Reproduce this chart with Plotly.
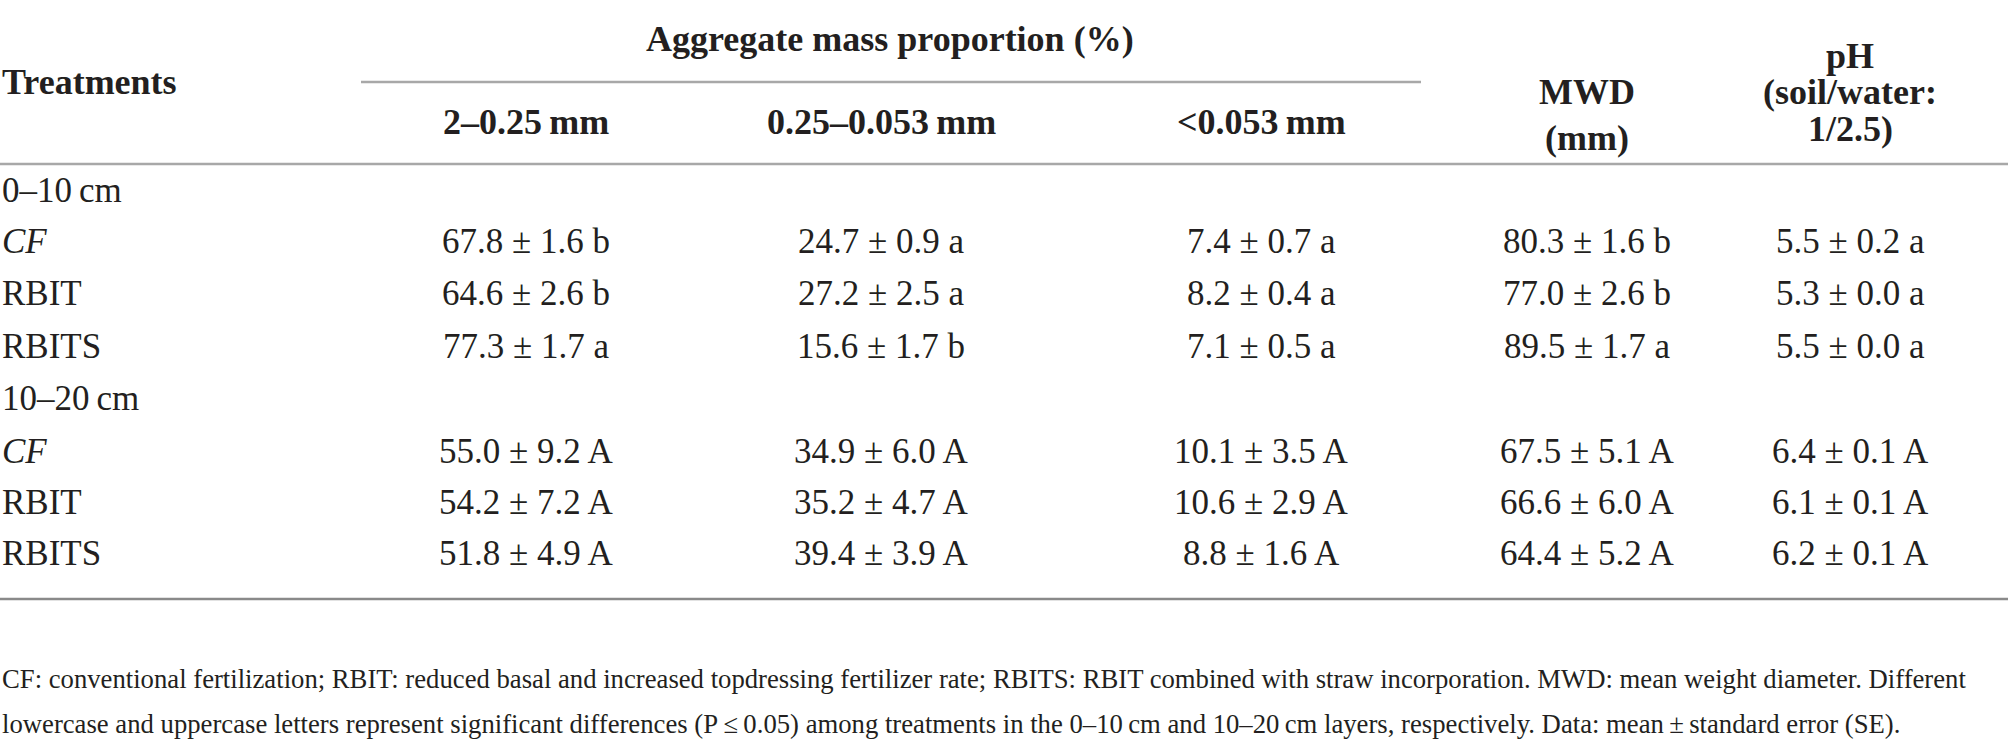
'''Table: aggregate mass proportion, MWD and pH by treatment and soil layer'''
import plotly.graph_objects as go

# data
layers = ["0–10\u2009cm", "10–20\u2009cm"]
treatments = ["CF", "RBIT", "RBITS"]

size_cols = ["2–0.25\u2009mm", "0.25–0.053\u2009mm", "<0.053\u2009mm"]

agg_large_mean = [67.8, 64.6, 77.3, 55.0, 54.2, 51.8]
agg_large_se = [1.6, 2.6, 1.7, 9.2, 7.2, 4.9]
agg_large_sig = ["b", "b", "a", "A", "A", "A"]

agg_mid_mean = [24.7, 27.2, 15.6, 34.9, 35.2, 39.4]
agg_mid_se = [0.9, 2.5, 1.7, 6.0, 4.7, 3.9]
agg_mid_sig = ["a", "a", "b", "A", "A", "A"]

agg_small_mean = [7.4, 8.2, 7.1, 10.1, 10.6, 8.8]
agg_small_se = [0.7, 0.4, 0.5, 3.5, 2.9, 1.6]
agg_small_sig = ["a", "a", "a", "A", "A", "A"]

mwd_mean = [80.3, 77.0, 89.5, 67.5, 66.6, 64.4]
mwd_se = [1.6, 2.6, 1.7, 5.1, 6.0, 5.2]
mwd_sig = ["b", "b", "a", "A", "A", "A"]

ph_mean = [5.5, 5.3, 5.5, 6.4, 6.1, 6.2]
ph_se = [0.2, 0.0, 0.0, 0.1, 0.1, 0.1]
ph_sig = ["a", "a", "a", "A", "A", "A"]

footnote = [
    "CF: conventional fertilization; RBIT: reduced basal and increased topdressing fertilizer rate; "
    "RBITS: RBIT combined with straw incorporation. MWD: mean weight diameter. Different",
    "lowercase and uppercase letters represent significant differences (P\u2009≤\u20090.05) among treatments "
    "in the 0–10\u2009cm and 10–20\u2009cm layers, respectively. Data: mean\u2009±\u2009standard error (SE).",
]

# layout (pixel units on hidden axes)
W, H = 2008, 742
FONT = "Liberation Serif"
TXT = "#231f20"
col_x = [526, 881, 1261, 1587, 1850]
row_y = [190, 241, 293, 346, 398, 451, 502, 553]
body_size = 35
head_size = 36


def fmt(m, s, l):
    return f"{m:.1f} ± {s:.1f} {l}"


columns = [
    [fmt(*v) for v in zip(agg_large_mean, agg_large_se, agg_large_sig)],
    [fmt(*v) for v in zip(agg_mid_mean, agg_mid_se, agg_mid_sig)],
    [fmt(*v) for v in zip(agg_small_mean, agg_small_se, agg_small_sig)],
    [fmt(*v) for v in zip(mwd_mean, mwd_se, mwd_sig)],
    [fmt(*v) for v in zip(ph_mean, ph_se, ph_sig)],
]

fig = go.Figure()

# body cells: each layer has a label row then one row per treatment
label_x, label_y, label_t = [], [], []
k = 0
for li, layer in enumerate(layers):
    label_x.append(0)
    label_y.append(row_y[k])
    label_t.append(layer)
    k += 1
    for ti, t in enumerate(treatments):
        label_x.append(0)
        label_y.append(row_y[k])
        label_t.append("<i>CF</i>" if t == "CF" else t)
        idx = li * len(treatments) + ti
        for ci, col in enumerate(columns):
            fig.add_annotation(x=col_x[ci], y=row_y[k], text=col[idx], showarrow=False,
                               xanchor="center", yanchor="middle",
                               font=dict(family=FONT, size=body_size, color=TXT))
        k += 1

for x, y, t in zip(label_x, label_y, label_t):
    fig.add_annotation(x=x, y=y, text=t, showarrow=False, xanchor="left", yanchor="middle",
                       font=dict(family=FONT, size=body_size, color=TXT))

# header
head_font = dict(family=FONT, size=head_size, color=TXT)
fig.add_annotation(x=0, y=82, text="<b>Treatments</b>", showarrow=False, xanchor="left",
                   yanchor="middle", font=head_font)
fig.add_annotation(x=890, y=39, text="<b>Aggregate mass proportion (%)</b>", showarrow=False,
                   yanchor="middle", font=head_font)
for ci, name in enumerate(size_cols):
    fig.add_annotation(x=col_x[ci], y=122, text=f"<b>{name}</b>", showarrow=False,
                       yanchor="middle", font=head_font)
for y, t in zip([92, 138], ["MWD", "(mm)"]):
    fig.add_annotation(x=col_x[3], y=y, text=f"<b>{t}</b>", showarrow=False,
                       yanchor="middle", font=head_font)
for y, t in zip([56, 92, 129], ["pH", "(soil/water:", "1/2.5)"]):
    fig.add_annotation(x=col_x[4], y=y, text=f"<b>{t}</b>", showarrow=False,
                       yanchor="middle", font=head_font)

# rules
fig.add_shape(type="line", x0=361, x1=1421, y0=82, y1=82, line=dict(color="#a8a8a8", width=2.5))
fig.add_shape(type="line", x0=0, x1=W, y0=164, y1=164, line=dict(color="#a8a8a8", width=2.5))
fig.add_shape(type="line", x0=0, x1=W, y0=599, y1=599, line=dict(color="#8a8a8a", width=2.5))

# footnote
for y, t in zip([679, 724], footnote):
    fig.add_annotation(x=0, y=y, text=t, showarrow=False, xanchor="left", yanchor="middle",
                       font=dict(family=FONT, size=26.7, color=TXT))

fig.update_layout(
    width=W, height=H,
    margin=dict(l=0, r=0, t=0, b=0),
    paper_bgcolor="white", plot_bgcolor="white",
    xaxis=dict(range=[0, W], visible=False, fixedrange=True),
    yaxis=dict(range=[H, 0], visible=False, fixedrange=True),
    showlegend=False,
)

# drop the default 8px page margin so the figure fills the window
fig.write_html("out.html", config={"displayModeBar": False},
               post_script="document.body.style.margin='0';")
